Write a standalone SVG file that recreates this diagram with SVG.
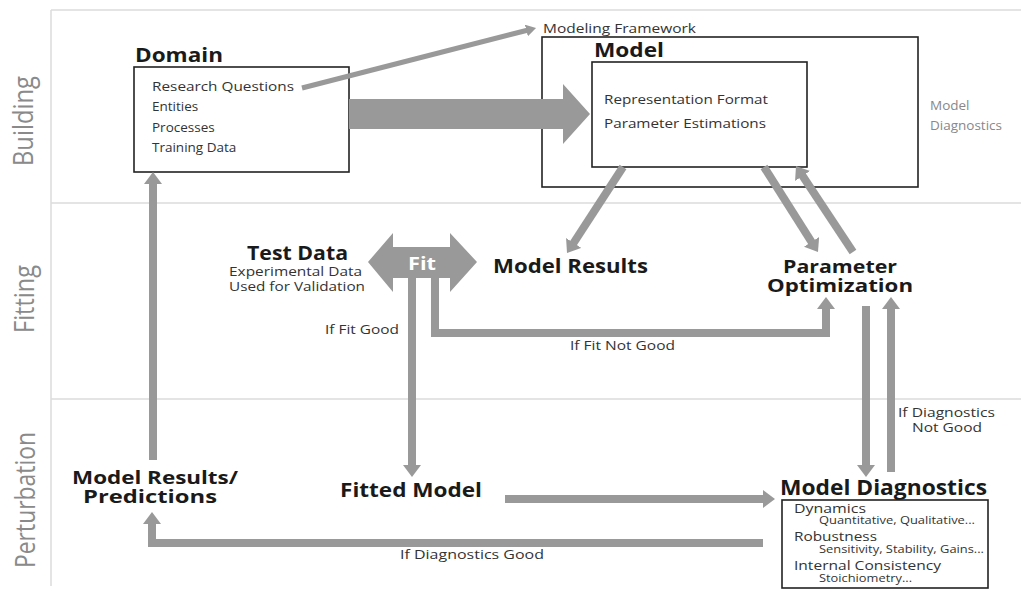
<svg xmlns="http://www.w3.org/2000/svg" width="1021" height="589" viewBox="0 0 1021 589">
<style>
  text { font-family: "Open Sans", "Liberation Sans", sans-serif; fill: #1a1a1a; }
  .lane { fill: #8a8a8a; font-size: 28px; }
  .title { font-weight: bold; font-size: 20px; }
  .two { font-size: 17.5px; }
  .item { font-size: 13.5px; fill: #333; }
  .small { font-size: 12.5px; fill: #333; }
  .dhead { font-size: 12.5px; fill: #333; }
  .sub { font-size: 10px; fill: #333; }
  .grid { stroke: #dcdcdc; stroke-width: 1.5; fill: none; }
  .box { fill: #fff; stroke: #222; stroke-width: 1.6; }
  .conn { fill: none; stroke: #999; stroke-width: 8; marker-end: url(#ah); }
  .thin { fill: none; stroke: #999; stroke-width: 5; marker-end: url(#ahs); }
  .shape { fill: #999; }
</style>
<defs>
  <marker id="ah" markerUnits="userSpaceOnUse" viewBox="0 0 12 18" refX="2" refY="9" markerWidth="12" markerHeight="18" orient="auto">
    <path d="M0,0 L12,9 L0,18 z" fill="#999"/>
  </marker>
  <marker id="ahs" markerUnits="userSpaceOnUse" viewBox="0 0 10 12" refX="2" refY="6" markerWidth="10" markerHeight="12" orient="auto">
    <path d="M0,0 L10,6 L0,12 z" fill="#999"/>
  </marker>
</defs>
<rect width="1021" height="589" fill="#fff"/>

<g id="frame">
  <path class="grid" d="M51,10 H1021 M51,10 V586 M51,203 H1021 M51,399 H1021"/>
  <text class="lane" transform="translate(33,121) rotate(-90)" text-anchor="middle" textLength="90" lengthAdjust="spacingAndGlyphs">Building</text>
  <text class="lane" transform="translate(34,299) rotate(-90)" text-anchor="middle" textLength="68" lengthAdjust="spacingAndGlyphs">Fitting</text>
  <text class="lane" transform="translate(35,500) rotate(-90)" text-anchor="middle" textLength="136" lengthAdjust="spacingAndGlyphs">Perturbation</text>
</g>

<g id="domain">
  <text class="title" x="135" y="62" textLength="88" lengthAdjust="spacingAndGlyphs">Domain</text>
  <rect class="box" x="134" y="67" width="215" height="105"/>
  <text class="item" x="152" y="91" textLength="142" lengthAdjust="spacingAndGlyphs">Research Questions</text>
  <text class="item" x="152" y="111">Entities</text>
  <text class="item" x="152" y="132">Processes</text>
  <text class="item" x="152" y="152">Training Data</text>
</g>

<g id="model">
  <text class="small" x="543" y="33" textLength="153" lengthAdjust="spacingAndGlyphs">Modeling Framework</text>
  <rect class="box" x="542" y="37" width="376" height="150"/>
  <text class="title" x="594" y="57" textLength="70" lengthAdjust="spacingAndGlyphs">Model</text>
  <rect class="box" x="592" y="62" width="215" height="105"/>
  <text class="item" x="604" y="104" textLength="164" lengthAdjust="spacingAndGlyphs">Representation Format</text>
  <text class="item" x="604" y="128" textLength="162" lengthAdjust="spacingAndGlyphs">Parameter Estimations</text>
</g>

<g id="model-diagnostics-label">
  <text class="item" x="930" y="110" style="fill:#888">Model</text>
  <text class="item" x="930" y="130" style="fill:#888">Diagnostics</text>
</g>

<g id="test-data">
  <text class="title" x="247" y="260" textLength="101" lengthAdjust="spacingAndGlyphs">Test Data</text>
  <text class="item" x="229" y="276" textLength="133" lengthAdjust="spacingAndGlyphs">Experimental Data</text>
  <text class="item" x="229" y="291" textLength="136" lengthAdjust="spacingAndGlyphs">Used for Validation</text>
</g>

<g id="fit">
  <path class="shape" d="M368,262 L393,233 V247 H450 V233 L477,262 L450,292 V278 H393 V292 z"/>
  <text x="422" y="270" text-anchor="middle" font-weight="bold" font-size="17" style="fill:#fff" textLength="28" lengthAdjust="spacingAndGlyphs">Fit</text>
</g>

<g id="model-results">
  <text class="title" x="493" y="273" textLength="155" lengthAdjust="spacingAndGlyphs">Model Results</text>
</g>

<g id="parameter-optimization">
  <text class="title two" x="783" y="273" textLength="114" lengthAdjust="spacingAndGlyphs">Parameter</text>
  <text class="title two" x="767" y="292" textLength="146" lengthAdjust="spacingAndGlyphs">Optimization</text>
</g>

<g id="predictions">
  <text class="title two" x="72" y="484" textLength="166" lengthAdjust="spacingAndGlyphs">Model Results/</text>
  <text class="title two" x="83" y="503" textLength="134" lengthAdjust="spacingAndGlyphs">Predictions</text>
</g>

<g id="fitted-model">
  <text class="title" x="340" y="497" textLength="142" lengthAdjust="spacingAndGlyphs">Fitted Model</text>
</g>

<g id="model-diagnostics">
  <text class="title" x="780" y="495" style="font-size:21px" textLength="207" lengthAdjust="spacingAndGlyphs">Model Diagnostics</text>
  <rect class="box" x="782" y="500" width="206" height="88"/>
  <text class="dhead" x="794" y="513" textLength="72" lengthAdjust="spacingAndGlyphs">Dynamics</text>
  <text class="sub" x="819" y="524" textLength="156" lengthAdjust="spacingAndGlyphs">Quantitative, Qualitative...</text>
  <text class="dhead" x="794" y="541" textLength="83" lengthAdjust="spacingAndGlyphs">Robustness</text>
  <text class="sub" x="819" y="553" textLength="165" lengthAdjust="spacingAndGlyphs">Sensitivity, Stability, Gains...</text>
  <text class="dhead" x="794" y="570" textLength="147" lengthAdjust="spacingAndGlyphs">Internal Consistency</text>
  <text class="sub" x="819" y="582" textLength="93" lengthAdjust="spacingAndGlyphs">Stoichiometry...</text>
</g>

<g id="connectors">
  <path class="shape" d="M349,99 H563 V84 L590,114 L563,144 V129 H349 z"/>
  <path class="thin" d="M302,88 L528.3,30"/>
  <path class="conn" d="M623,167 L572.5,244.6"/>
  <path class="conn" d="M764,167 L812.6,243.6"/>
  <path class="conn" d="M853,252 L801.5,174.3"/>
  <path class="conn" d="M412,278 V467"/>
  <path class="conn" stroke-width="7" d="M435,278 V333 H826 V307"/>
  <path class="conn" d="M866,306 V467"/>
  <path class="conn" d="M891,472 V307"/>
  <path class="conn" d="M505,499 H765"/>
  <path class="conn" d="M763,543 H152 V522"/>
  <path class="conn" d="M153,460 V182"/>
  <text class="small" x="325" y="334" textLength="74" lengthAdjust="spacingAndGlyphs">If Fit Good</text>
  <text class="small" x="570" y="350" textLength="105" lengthAdjust="spacingAndGlyphs">If Fit Not Good</text>
  <text class="small" x="898" y="417" textLength="97" lengthAdjust="spacingAndGlyphs">If Diagnostics</text>
  <text class="small" x="912" y="432" textLength="70" lengthAdjust="spacingAndGlyphs">Not Good</text>
  <text class="small" x="400" y="559" textLength="144" lengthAdjust="spacingAndGlyphs">If Diagnostics Good</text>
</g>
</svg>
